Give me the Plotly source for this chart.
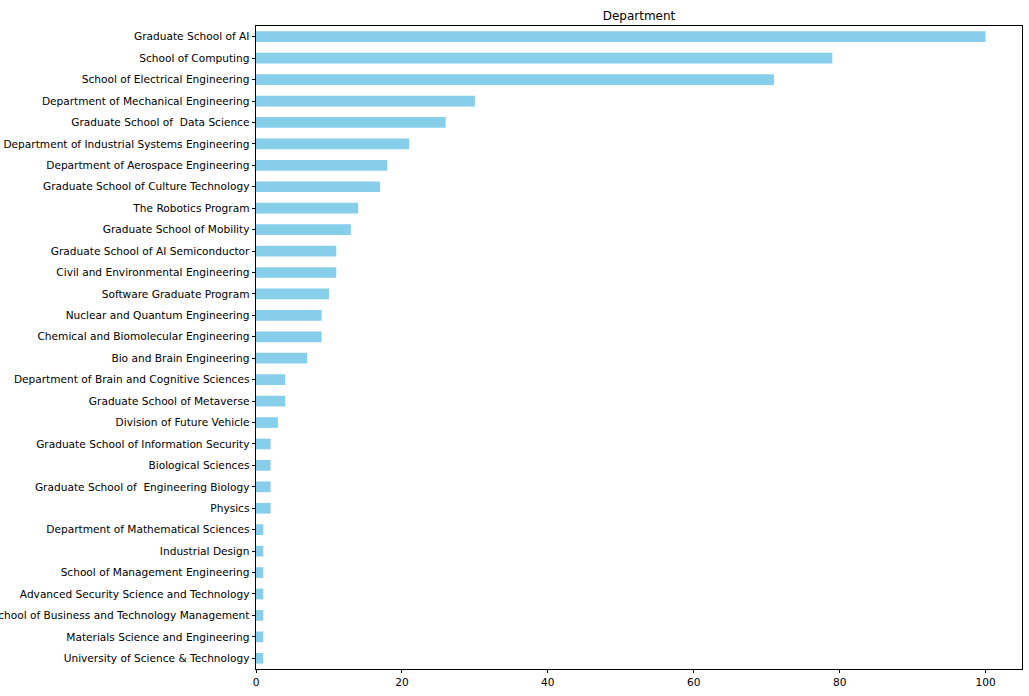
import plotly.graph_objects as go

departments = [
    "Graduate School of AI",
    "School of Computing",
    "School of Electrical Engineering",
    "Department of Mechanical Engineering",
    "Graduate School of  Data Science",
    "Department of Industrial Systems Engineering",
    "Department of Aerospace Engineering",
    "Graduate School of Culture Technology",
    "The Robotics Program",
    "Graduate School of Mobility",
    "Graduate School of AI Semiconductor",
    "Civil and Environmental Engineering",
    "Software Graduate Program",
    "Nuclear and Quantum Engineering",
    "Chemical and Biomolecular Engineering",
    "Bio and Brain Engineering",
    "Department of Brain and Cognitive Sciences",
    "Graduate School of Metaverse",
    "Division of Future Vehicle",
    "Graduate School of Information Security",
    "Biological Sciences",
    "Graduate School of  Engineering Biology",
    "Physics",
    "Department of Mathematical Sciences",
    "Industrial Design",
    "School of Management Engineering",
    "Advanced Security Science and Technology",
    "School of Business and Technology Management",
    "Materials Science and Engineering",
    "University of Science & Technology",
]
counts = [100, 79, 71, 30, 26, 21, 18, 17, 14, 13, 11, 11, 10, 9, 9, 7, 4, 4, 3,
          2, 2, 2, 2, 1, 1, 1, 1, 1, 1, 1]
x_ticks = [0, 20, 40, 60, 80, 100]
title_text = "Department"

FONT = "DejaVu Sans"

fig = go.Figure(
    go.Bar(
        x=counts,
        y=list(range(len(departments))),
        orientation="h",
        width=0.5,
        marker=dict(color="#87CEEB", line=dict(width=0)),
        hoverinfo="x+text",
        text=departments,
        textposition="none",
    )
)

fig.update_layout(
    width=1029,
    height=696,
    margin=dict(l=256, r=7, t=26, b=27, pad=0),
    paper_bgcolor="white",
    plot_bgcolor="white",
    showlegend=False,
    font=dict(family=FONT, size=10.6, color="black"),
    title=dict(
        text=title_text,
        x=(256 + 1022) / 2 / 1029,
        xanchor="center",
        y=1 - 16 / 696,
        yanchor="middle",
        font=dict(family=FONT, size=12, color="black"),
    ),
)

fig.update_xaxes(
    range=[0, 105],
    tickvals=x_ticks,
    ticktext=[str(v) for v in x_ticks],
    ticks="outside",
    ticklen=3.5,
    tickwidth=0.8,
    tickcolor="black",
    showgrid=False,
    zeroline=False,
    showline=True,
    linecolor="black",
    linewidth=0.8,
    mirror=True,
    automargin=False,
    tickfont=dict(family=FONT, size=10.6, color="black"),
)

fig.update_yaxes(
    range=[len(departments) - 0.5, -0.5],
    tickvals=list(range(len(departments))),
    ticktext=departments,
    ticks="outside",
    ticklen=3.5,
    tickwidth=0.8,
    tickcolor="black",
    ticklabelstandoff=0,
    showgrid=False,
    zeroline=False,
    showline=True,
    linecolor="black",
    linewidth=0.8,
    mirror=True,
    automargin=False,
    tickfont=dict(family=FONT, size=10.6, color="black"),
)

fig.write_html(
    "out.html",
    config={"displayModeBar": False},
    post_script="document.body.style.margin='0';document.body.style.overflow='hidden';",
)
